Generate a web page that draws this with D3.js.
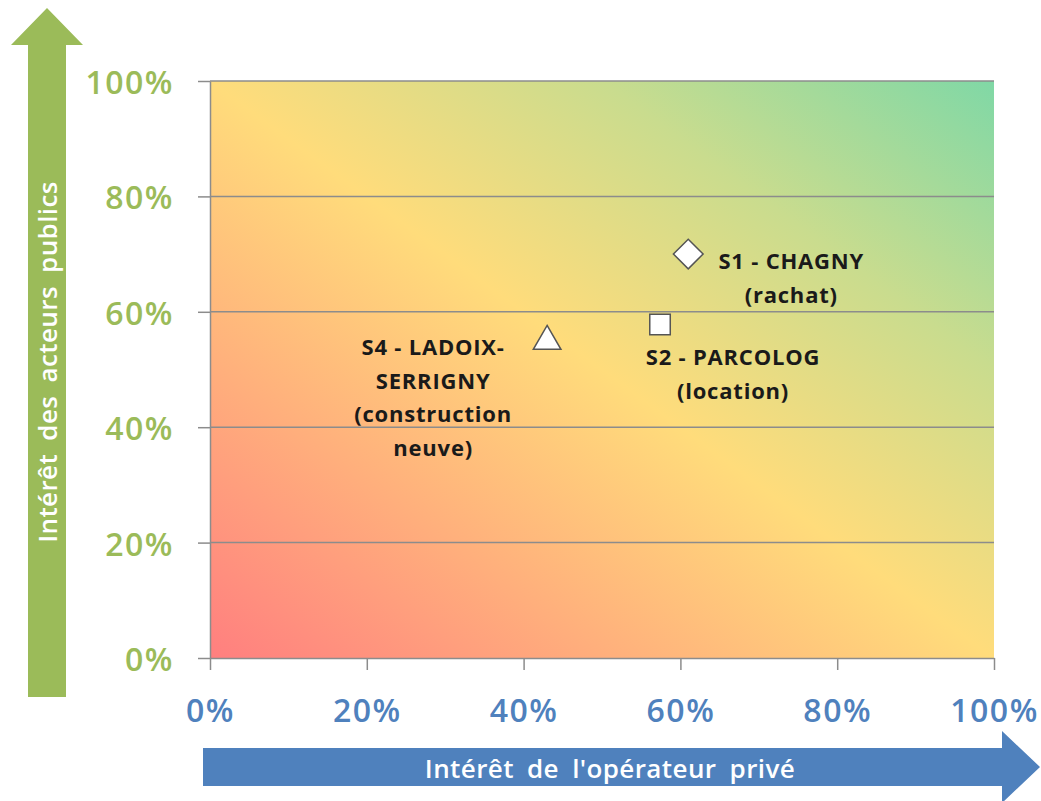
<!DOCTYPE html>
<html>
<head>
<meta charset="utf-8">
<script src="https://cdn.jsdelivr.net/npm/d3@7"></script>
<style>
  html, body { margin: 0; padding: 0; background: #fff; }
  svg { display: block; }
</style>
</head>
<body>
<svg id="chart" width="1041" height="801"></svg>
<script>
// Scenario positions: private operator interest (x) vs public actors interest (y)
const scenarios = ["S1", "S2", "S4"];
const xValues = [0.61, 0.574, 0.43];
const yValues = [0.70, 0.578, 0.554];
const markerShapes = ["diamond", "square", "triangle"];
const labelLines = [
  ["S1 - CHAGNY", "(rachat)"],
  ["S2 - PARCOLOG", "(location)"],
  ["S4 - LADOIX-", "SERRIGNY", "(construction", "neuve)"]
];
const tickValues = [0, 0.2, 0.4, 0.6, 0.8, 1.0];
const xTitle = "Intérêt de l'opérateur privé";
const yTitle = "Intérêt des acteurs publics";

const svg = d3.select("#chart");
const plot = { left: 210, right: 994, top: 81, bottom: 658 };

const x = d3.scaleLinear().domain([0, 1]).range([plot.left, plot.right]);
const y = d3.scaleLinear().domain([0, 1]).range([plot.bottom, plot.top]);

const fontFamily = "'Open Sans', Lato, sans-serif";
const green = "#9BBB59";
const blue = "#4F81BD";
const gridColor = "#8c8c8c";

// Diagonal background: red (low/low) -> yellow -> green (high/high)
const defs = svg.append("defs");
const grad = defs.append("linearGradient")
  .attr("id", "bg")
  .attr("x1", 0).attr("y1", 1).attr("x2", 1).attr("y2", 0);
grad.append("stop").attr("offset", "0%").attr("stop-color", "#FF7F7F");
grad.append("stop").attr("offset", "25%").attr("stop-color", "#FFAE7C");
grad.append("stop").attr("offset", "50%").attr("stop-color", "#FFDC7B");
grad.append("stop").attr("offset", "75%").attr("stop-color", "#C9DC8E");
grad.append("stop").attr("offset", "100%").attr("stop-color", "#80D8A6");

svg.append("rect")
  .attr("x", x(0)).attr("y", y(1))
  .attr("width", x(1) - x(0)).attr("height", y(0) - y(1))
  .attr("fill", "url(#bg)");

// Horizontal gridlines
svg.append("g")
  .selectAll("line")
  .data(tickValues.filter(d => d > 0))
  .join("line")
  .attr("x1", x(0)).attr("x2", x(1))
  .attr("y1", d => y(d)).attr("y2", d => y(d))
  .attr("stroke", gridColor).attr("stroke-width", 1.5);

// Axes
const xAxis = svg.append("g")
  .attr("transform", `translate(0,${y(0)})`)
  .call(d3.axisBottom(x).tickValues(tickValues).tickSize(12).tickSizeOuter(0)
    .tickFormat(d3.format(".0%")));
xAxis.select(".domain").attr("stroke", gridColor).attr("stroke-width", 1.5);
xAxis.selectAll(".tick line").attr("stroke", gridColor).attr("stroke-width", 1.5);
xAxis.selectAll(".tick text")
  .attr("y", 51)
  .attr("dy", null)
  .attr("dominant-baseline", "central")
  .attr("fill", blue)
  .attr("font-family", fontFamily)
  .attr("font-size", 32)
  .attr("font-weight", 600)
  .attr("letter-spacing", 1.5);

const yAxis = svg.append("g")
  .attr("transform", `translate(${x(0)},0)`)
  .call(d3.axisLeft(y).tickValues(tickValues).tickSize(12).tickSizeOuter(0)
    .tickFormat(d3.format(".0%")));
yAxis.select(".domain").attr("stroke", gridColor).attr("stroke-width", 1.5);
yAxis.selectAll(".tick line").attr("stroke", gridColor).attr("stroke-width", 1.5);
yAxis.selectAll(".tick text")
  .attr("x", -36)
  .attr("dy", null)
  .attr("dominant-baseline", "central")
  .attr("fill", green)
  .attr("font-family", fontFamily)
  .attr("font-size", 32)
  .attr("font-weight", 600)
  .attr("letter-spacing", 1.5);

// Axis arrows with titles
const yArrow = d3.path();
yArrow.moveTo(28, 697);
yArrow.lineTo(28, 45);
yArrow.lineTo(11, 45);
yArrow.lineTo(47, 8);
yArrow.lineTo(83, 45);
yArrow.lineTo(66, 45);
yArrow.lineTo(66, 697);
yArrow.closePath();
svg.append("path").attr("d", yArrow.toString()).attr("fill", green);

svg.append("text")
  .attr("transform", "translate(47,362) rotate(-90)")
  .attr("text-anchor", "middle")
  .attr("dominant-baseline", "central")
  .attr("fill", "#fff")
  .attr("font-family", fontFamily)
  .attr("font-size", 26)
  .attr("font-weight", 600)
  .attr("letter-spacing", 0.4)
  .attr("word-spacing", 6)
  .text(yTitle);

const xArrow = d3.path();
xArrow.moveTo(203, 748);
xArrow.lineTo(1002, 748);
xArrow.lineTo(1002, 731);
xArrow.lineTo(1040, 767);
xArrow.lineTo(1002, 803);
xArrow.lineTo(1002, 786);
xArrow.lineTo(203, 786);
xArrow.closePath();
svg.append("path").attr("d", xArrow.toString()).attr("fill", blue);

svg.append("text")
  .attr("x", 610).attr("y", 768)
  .attr("text-anchor", "middle")
  .attr("dominant-baseline", "central")
  .attr("fill", "#fff")
  .attr("font-family", fontFamily)
  .attr("font-size", 26)
  .attr("font-weight", 600)
  .attr("letter-spacing", 0.4)
  .attr("word-spacing", 6)
  .text(xTitle);

// Markers (the diamond is a square turned by 45 degrees)
const symbolTypes = { diamond: d3.symbolSquare, square: d3.symbolSquare, triangle: d3.symbolTriangle };
const symbolSizes = { diamond: 440, square: 420, triangle: 330 };
svg.append("g")
  .selectAll("path")
  .data(scenarios.map((s, i) => ({ s, x: xValues[i], y: yValues[i], shape: markerShapes[i] })))
  .join("path")
  .attr("transform", d => {
    const dy = d.shape === "triangle" ? 3 : 0;
    const rot = d.shape === "diamond" ? " rotate(45)" : "";
    return `translate(${x(d.x)},${y(d.y) + dy})${rot}`;
  })
  .attr("d", d => d3.symbol().type(symbolTypes[d.shape]).size(symbolSizes[d.shape])())
  .attr("fill", "#fff")
  .attr("stroke", "#555")
  .attr("stroke-width", 1.5);

// Data labels, positioned relative to each marker
const labelOffsets = [
  { dx: 103, dy: 6 },   // right of S1
  { dx: 73, dy: 32 },   // below S2
  { dx: -114, dy: 8 }   // left of S4
];
const lineHeight = 33.5;
const labels = svg.append("g")
  .selectAll("text")
  .data(scenarios.map((s, i) => ({ i, x: xValues[i], y: yValues[i], lines: labelLines[i] })))
  .join("text")
  .attr("text-anchor", "middle")
  .attr("font-family", fontFamily)
  .attr("font-size", 22)
  .attr("font-weight", "bold")
  .attr("letter-spacing", 0.8)
  .attr("fill", "#1a1a1a");
labels.each(function(d) {
  const cx = x(d.x) + labelOffsets[d.i].dx;
  const cy = y(d.y) + labelOffsets[d.i].dy;
  d3.select(this).selectAll("tspan")
    .data(d.lines)
    .join("tspan")
    .attr("x", cx)
    .attr("y", (l, k) => cy + k * lineHeight)
    .attr("dominant-baseline", "central")
    .text(l => l);
});
</script>
</body>
</html>
